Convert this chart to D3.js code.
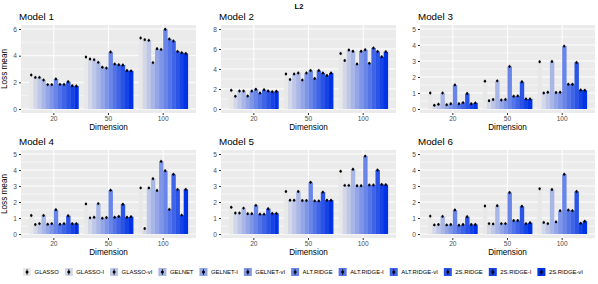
<!DOCTYPE html>
<html>
<head>
<meta charset="utf-8">
<script src="https://cdn.jsdelivr.net/npm/d3@7"></script>
<style>
  body { margin: 0; background: #fff; }
  svg { display: block; font-family: "Liberation Sans", Arial, sans-serif; }
</style>
</head>
<body>
<svg id="chart" width="598" height="284"></svg>
<script>
'use strict';

const dims = ["20", "50", "100"];
const methods = ["GLASSO", "GLASSO-I", "GLASSO-vI", "GELNET", "GELNET-I", "GELNET-vI",
  "ALT.RIDGE", "ALT.RIDGE-I", "ALT.RIDGE-vI", "2S.RIDGE", "2S.RIDGE-I", "2S.RIDGE-vI"];

// loss means, one row per dimension (20, 50, 100), one value per method
const model1 = [
  [2.55, 2.37, 2.37, 2.17, 1.83, 1.83, 2.25, 1.85, 1.85, 2.05, 1.74, 1.72],
  [3.90, 3.75, 3.70, 3.50, 3.14, 3.07, 4.28, 3.37, 3.32, 3.30, 2.89, 2.86],
  [5.33, 5.20, 5.15, 3.48, 4.52, 4.47, 5.98, 5.25, 5.10, 4.32, 4.22, 4.17]
];
const model2 = [
  [1.87, 1.27, 1.80, 1.80, 1.30, 1.80, 1.97, 1.60, 1.92, 1.80, 1.72, 1.77],
  [3.50, 2.95, 3.50, 3.60, 2.90, 3.60, 3.85, 3.05, 3.85, 3.60, 3.35, 3.60],
  [5.55, 4.85, 5.90, 5.78, 4.50, 5.78, 5.92, 4.57, 6.10, 5.75, 5.22, 5.72]
];
const model3 = [
  [1.00, 0.23, 0.30, 1.00, 0.27, 0.33, 1.50, 0.33, 0.40, 0.97, 0.33, 0.38],
  [1.74, 0.52, 0.59, 1.76, 0.56, 0.60, 2.66, 0.80, 0.82, 1.70, 0.63, 0.63],
  [2.95, 1.00, 1.05, 2.97, 1.03, 1.05, 3.93, 1.55, 1.55, 2.91, 1.19, 1.17]
];
const model4 = [
  [1.16, 0.59, 0.65, 1.16, 0.61, 0.65, 1.52, 0.61, 0.65, 1.14, 0.65, 0.65],
  [1.88, 1.01, 1.05, 1.90, 0.99, 1.03, 2.74, 1.05, 1.10, 1.86, 1.05, 1.08],
  [2.88, 0.34, 2.88, 3.46, 2.72, 4.54, 3.95, 1.54, 3.73, 2.78, 1.18, 2.79]
];
const model5 = [
  [1.67, 1.31, 1.31, 1.62, 1.27, 1.27, 1.79, 1.24, 1.24, 1.58, 1.29, 1.29],
  [2.66, 2.11, 2.11, 2.66, 2.09, 2.09, 3.23, 2.07, 2.07, 2.62, 2.11, 2.11],
  [3.92, 3.04, 3.04, 4.05, 3.02, 3.02, 4.87, 3.06, 3.06, 4.00, 3.10, 3.08]
];
const model6 = [
  [1.12, 0.57, 0.59, 1.10, 0.57, 0.59, 1.50, 0.55, 0.59, 1.08, 0.59, 0.59],
  [1.75, 0.65, 0.63, 1.77, 0.65, 0.65, 2.59, 0.84, 0.84, 1.73, 0.65, 0.70],
  [2.83, 0.72, 0.65, 2.78, 0.76, 1.46, 3.73, 1.50, 1.46, 2.66, 0.67, 0.80]
];

const models = [model1, model2, model3, model4, model5, model6];
const modelNames = ["Model 1", "Model 2", "Model 3", "Model 4", "Model 5", "Model 6"];
const yLimits = [6, 8, 5, 5, 5, 5];
const yTicks = [
  [0, 2, 4, 6], [0, 2, 4, 6, 8], [0, 1, 2, 3, 4, 5],
  [0, 1, 2, 3, 4, 5], [0, 1, 2, 3, 4, 5], [0, 1, 2, 3, 4, 5]
];

const svg = d3.select("#chart");
const colLeft = [21, 221, 420];
const rowTop = [25, 150];
const panelW = 175, panelH = 88;

const color = d3.scaleOrdinal()
  .domain(methods)
  .range(methods.map((d, i) => d3.interpolateRgb("#e8e8e8", "#0033e6")(i / (methods.length - 1))));

svg.append("text")
  .attr("x", 299).attr("y", 9)
  .attr("text-anchor", "middle")
  .attr("font-size", 7.5).attr("font-weight", "bold")
  .text("L2");

models.forEach((data, m) => {
  const left = colLeft[m % 3], top = rowTop[Math.floor(m / 3)];
  const g = svg.append("g").attr("transform", `translate(${left},${top})`);

  const x = d3.scaleBand().domain(dims).range([0, panelW])
    .paddingInner(0.1).paddingOuter(0.15);
  const xInner = d3.scaleBand().domain(methods).range([0, x.bandwidth()]);
  const lim = yLimits[m];
  const y = d3.scaleLinear().domain([-0.05 * lim, 1.05 * lim]).range([panelH, 0]);

  g.append("rect").attr("width", panelW).attr("height", panelH).attr("fill", "#ebebeb");

  // minor grid
  const ticks = yTicks[m];
  const minor = ticks.slice(1).map((t, i) => (t + ticks[i]) / 2);
  g.selectAll(".minor").data(minor).enter().append("line")
    .attr("x1", 0).attr("x2", panelW)
    .attr("y1", d => y(d)).attr("y2", d => y(d))
    .attr("stroke", "#fff").attr("stroke-width", 0.5);

  // major grid
  g.selectAll(".hmajor").data(ticks).enter().append("line")
    .attr("x1", 0).attr("x2", panelW)
    .attr("y1", d => y(d)).attr("y2", d => y(d))
    .attr("stroke", "#fff").attr("stroke-width", 1);
  g.selectAll(".vmajor").data(dims).enter().append("line")
    .attr("x1", d => x(d) + x.bandwidth() / 2).attr("x2", d => x(d) + x.bandwidth() / 2)
    .attr("y1", 0).attr("y2", panelH)
    .attr("stroke", "#fff").attr("stroke-width", 1);

  // bars
  dims.forEach((dim, di) => {
    const gg = g.append("g").attr("transform", `translate(${x(dim)},0)`);
    const rows = methods.map((k, j) => ({ k, v: data[di][j] }));
    gg.selectAll("rect").data(rows).enter().append("rect")
      .attr("x", d => xInner(d.k))
      .attr("width", xInner.bandwidth() + 0.3)
      .attr("y", d => y(d.v))
      .attr("height", d => y(0) - y(d.v))
      .attr("fill", d => color(d.k));
    gg.selectAll("line").data(rows).enter().append("line")
      .attr("x1", d => xInner(d.k) + xInner.bandwidth() / 2)
      .attr("x2", d => xInner(d.k) + xInner.bandwidth() / 2)
      .attr("y1", d => y(d.v) - 1.6).attr("y2", d => y(d.v) + 1.6)
      .attr("stroke", "#000").attr("stroke-width", 0.6);
    gg.selectAll("circle").data(rows).enter().append("circle")
      .attr("cx", d => xInner(d.k) + xInner.bandwidth() / 2)
      .attr("cy", d => y(d.v))
      .attr("r", 1.2).attr("fill", "#000");
  });

  // axes
  const yAxis = g.append("g")
    .call(d3.axisLeft(y).tickValues(ticks).tickFormat(d3.format("d")).tickSize(2).tickPadding(2));
  yAxis.select(".domain").remove();
  yAxis.selectAll("line").attr("stroke", "#333");
  yAxis.selectAll("text").attr("font-size", 6.6).attr("fill", "#4d4d4d")
    .attr("font-family", "Liberation Sans, Arial, sans-serif");

  const xAxis = g.append("g").attr("transform", `translate(0,${panelH})`)
    .call(d3.axisBottom(x).tickSize(2).tickPadding(1.5));
  xAxis.select(".domain").remove();
  xAxis.selectAll("line").attr("stroke", "#333");
  xAxis.selectAll("text").attr("font-size", 6.6).attr("fill", "#4d4d4d")
    .attr("font-family", "Liberation Sans, Arial, sans-serif");

  g.append("text")
    .attr("x", panelW / 2).attr("y", panelH + 17)
    .attr("text-anchor", "middle").attr("font-size", 8.2)
    .text("Dimension");

  g.append("text")
    .attr("x", -2).attr("y", -5)
    .attr("font-size", 9.8)
    .text(modelNames[m]);

  if (m % 3 === 0) {
    g.append("text")
      .attr("transform", `translate(-14,${panelH / 2}) rotate(-90)`)
      .attr("text-anchor", "middle").attr("font-size", 8.2)
      .text("Loss mean");
  }
});

// legend
const legend = svg.append("g");
const keySize = 8;
let cx = 0;
const items = legend.selectAll("g").data(methods).enter().append("g");
items.each(function(d) {
  const it = d3.select(this);
  it.append("rect").attr("x", 0).attr("y", -keySize / 2)
    .attr("width", keySize).attr("height", keySize).attr("fill", color(d));
  it.append("line").attr("x1", keySize / 2).attr("x2", keySize / 2)
    .attr("y1", -3).attr("y2", 3).attr("stroke", "#000").attr("stroke-width", 0.7);
  it.append("circle").attr("cx", keySize / 2).attr("cy", 0).attr("r", 1.5).attr("fill", "#000");
  const t = it.append("text").attr("x", keySize + 3.5).attr("y", 2.1)
    .attr("font-size", 5.9).text(d);
  const w = keySize + 3.5 + t.node().getComputedTextLength();
  it.attr("transform", `translate(${cx},0)`);
  cx += w + 6;
});
const totalW = cx - 6;
legend.attr("transform", `translate(${303 - totalW / 2},272)`);
</script>
</body>
</html>
